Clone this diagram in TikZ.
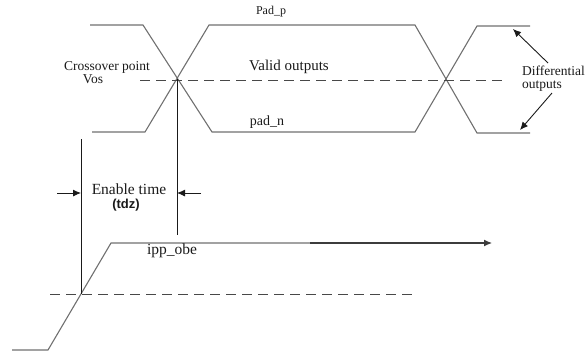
\documentclass[tikz,border=0pt]{standalone}
\usepackage{fontspec}
\setmainfont{Liberation Serif}
\newfontfamily\sansf{Liberation Sans}
\usetikzlibrary{arrows.meta}
\definecolor{wave}{HTML}{707070}
\definecolor{ink}{HTML}{1A1A1A}
\begin{document}
\begin{tikzpicture}[x=1pt,y=-1pt,
  wavel/.style={draw=wave,line width=1.1pt},
  mark line/.style={draw=ink,line width=0.9pt},
  dashln/.style={draw=ink!80,line width=1pt,dash pattern=on 10pt off 6pt},
  arr/.style={draw=ink,line width=0.9pt,-{Latex[length=8pt,width=7pt]}},
  lbl/.style={inner sep=0pt,text=ink,font=#1},
  lbl/.default={\fontsize{13}{15}\selectfont}]
\useasboundingbox (0,0) rectangle (587,354);
% top waveform
\coordinate (a1) at (90,25);  \coordinate (a2) at (143,25);
\coordinate (x1) at (177,79); \coordinate (a3) at (212,132);
\coordinate (b1) at (92,132); \coordinate (b2) at (145,132);
\coordinate (b3) at (209,25);
\coordinate (c1) at (415,25); \coordinate (x2) at (447,80);
\coordinate (c2) at (477,133); \coordinate (c3) at (530,133);
\coordinate (d1) at (415,132); \coordinate (d2) at (477,26);
\coordinate (d3) at (530,26);
\draw[wavel] (a1) -- (a2) -- (a3) -- (d1) -- (d2) -- (d3);
\draw[wavel] (b1) -- (b2) -- (b3) -- (c1) -- (c2) -- (c3);
\coordinate (ds1) at (140,80); \coordinate (ds2) at (508,80);
\draw[dashln] (ds1) -- (ds2);
% labels top
\node[lbl={\fontsize{12}{14}\selectfont}] (padp) at (271,12) {Pad\_p};
\node[lbl={\fontsize{15}{17}\selectfont}] (valid) at (289,67) {Valid outputs};
\node[lbl={\fontsize{14}{16}\selectfont}] (padn) at (267,122) {pad\_n};
\node[lbl={\fontsize{13.5}{15}\selectfont}] (cross) at (107,67) {Crossover point};
\node[lbl={\fontsize{13.5}{15}\selectfont}] (vos) at (93,79) {Vos};
\node[lbl={\fontsize{13.5}{15}\selectfont},anchor=west] (diff1) at (522,71) {Differential};
\node[lbl={\fontsize{13.5}{15}\selectfont},anchor=west] (diff2) at (522,86) {outputs};
\coordinate (dt) at (548,63); \coordinate (db) at (552,93);
\coordinate (pt) at (513,29); \coordinate (pb) at (520,130);
\draw[arr] (dt) -- (pt);
\draw[arr] (db) -- (pb);
% ipp_obe waveform
\coordinate (e0) at (12,350); \coordinate (e1) at (48,350);
\coordinate (x3) at (81,294); \coordinate (e2) at (111,243);
\coordinate (e3) at (310,243); \coordinate (e4) at (492,243);
\draw[wavel] (e0) -- (e1) -- (e2) -- (e3);
\draw[arr,draw=ink!85,line width=1.1pt] (e3) -- (e4);
\coordinate (ds3) at (50,294); \coordinate (ds4) at (418,294);
\draw[dashln] (ds3) -- (ds4);
\node[lbl={\fontsize{15.5}{17}\selectfont}] (ipp) at (172,251) {ipp\_obe};
% enable time
\coordinate (v1t) at (81,139);
\coordinate (v2b) at (177,235);
\draw[mark line] (v1t) -- (x3);
\draw[mark line] (x1) -- (v2b);
\coordinate (l1) at (57,193); \coordinate (l2) at (81,193);
\coordinate (r1) at (201,193); \coordinate (r2) at (177,193);
\draw[arr] (l1) -- (l2);
\draw[arr] (r1) -- (r2);
\node[lbl={\fontsize{15.5}{17}\selectfont}] (en) at (129,189) {Enable time};
\node[lbl={\sansf\bfseries\fontsize{13}{15}\selectfont}] (tdz) at (126,205) {(tdz)};
\end{tikzpicture}
\end{document}
